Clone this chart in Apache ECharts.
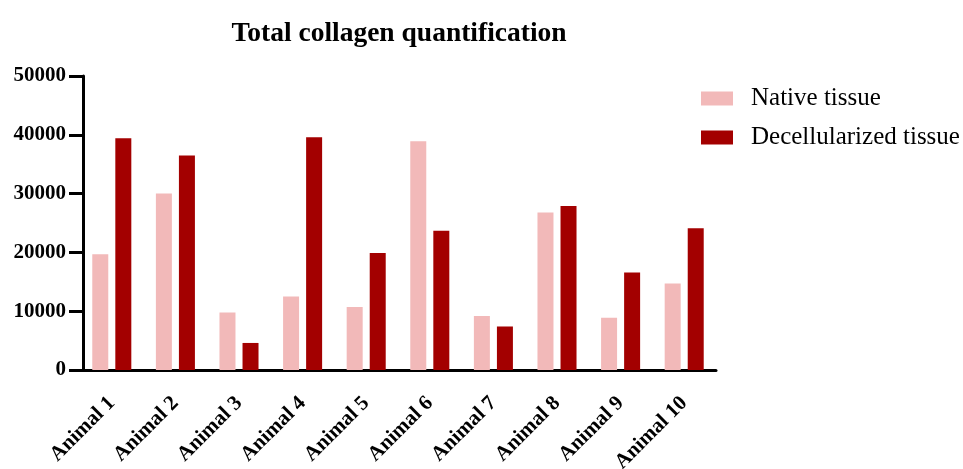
<!DOCTYPE html>
<html>
<head>
<meta charset="utf-8">
<script src="https://cdn.jsdelivr.net/npm/echarts@6/dist/echarts.min.js"></script>
<style>html,body{margin:0;padding:0;background:#fff}#c{width:963px;height:469px}</style>
</head>
<body>
<div id="c"></div>
<script>
var categories = ['Animal 1','Animal 2','Animal 3','Animal 4','Animal 5','Animal 6','Animal 7','Animal 8','Animal 9','Animal 10'];
var nativeTissue = [19700, 30000, 9800, 12500, 10700, 38900, 9200, 26800, 8900, 14700];
var decellTissue = [39400, 36500, 4600, 39600, 19900, 23700, 7400, 27900, 16600, 24100];
var yTicks = [0, 10000, 20000, 30000, 40000, 50000];

var serif = '"Liberation Serif", "DejaVu Serif", serif';
var chart = echarts.init(document.getElementById('c'), null, {renderer: 'canvas'});
chart.setOption({
  animation: false,
  title: {
    text: 'Total collagen quantification',
    left: 394, top: 15, textAlign: 'center',
    textStyle: {fontFamily: serif, fontWeight: 'bold', fontSize: 27.5, color: '#000'}
  },
  legend: {
    orient: 'vertical', left: 696, top: 81,
    itemWidth: 32, itemHeight: 14, itemGap: 14,
    icon: 'rect',
    textStyle: {fontFamily: serif, fontSize: 25, color: '#000', lineHeight: 25, padding: [0, 0, 0, 13]},
    data: ['Native tissue', 'Decellularized tissue']
  },
  grid: {left: 80, width: 636, top: 76, bottom: 99, containLabel: false, outerBoundsMode: 'none'},
  xAxis: {
    type: 'category', data: categories, boundaryGap: true,
    axisLine: {lineStyle: {color: '#000', width: 3}},
    axisTick: {alignWithLabel: true, length: 11, lineStyle: {color: '#000', width: 3}},
    axisLabel: {rotate: 45, margin: 30, fontFamily: serif, fontWeight: 'bold', fontSize: 21, color: '#000'}
  },
  yAxis: {
    type: 'value', min: 0, max: 50000, interval: 10000, offset: -3,
    axisLine: {show: true, lineStyle: {color: '#000', width: 3}},
    axisTick: {show: true, length: 14, lineStyle: {color: '#000', width: 3}},
    axisLabel: {margin: 17, fontFamily: serif, fontWeight: 'bold', fontSize: 21, color: '#000',
      formatter: function (v) { return yTicks.indexOf(v) >= 0 ? String(v) : ''; }},
    splitLine: {show: false}
  },
  series: [
    {name: 'Native tissue', type: 'bar', data: nativeTissue, barWidth: 16, barGap: '44%',
      itemStyle: {color: '#F2B9B9'}},
    {name: 'Decellularized tissue', type: 'bar', data: decellTissue, barWidth: 16,
      itemStyle: {color: '#A30000'}}
  ]
});
</script>
</body>
</html>
